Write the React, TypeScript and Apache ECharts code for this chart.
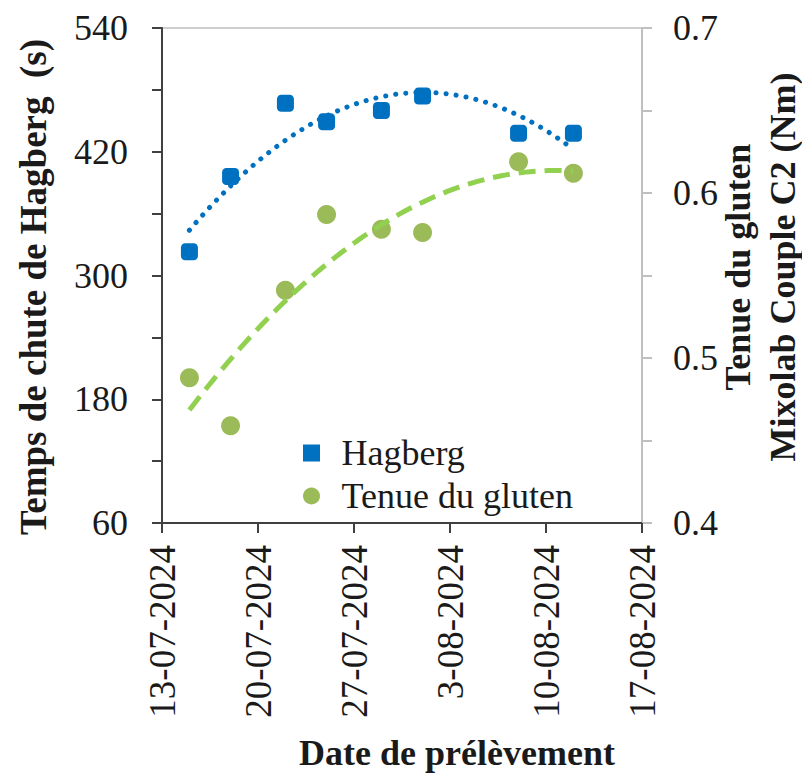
import React, { useEffect, useRef } from "react";
import * as echarts from "echarts";

// ---- data ----
const axisStartDate = "2024-07-13";
const axisEndDate = "2024-08-17";
const sampleDates = [
  "2024-07-15",
  "2024-07-18",
  "2024-07-22",
  "2024-07-25",
  "2024-07-29",
  "2024-08-01",
  "2024-08-08",
  "2024-08-12",
];
const hagbergValues = [323, 396, 467, 449, 460, 474, 438, 438];
const glutenValues = [0.488, 0.459, 0.541, 0.587, 0.578, 0.576, 0.619, 0.612];
const leftTickLabels = [60, 180, 300, 420, 540];
const rightTickLabels = [0.4, 0.5, 0.6, 0.7];

const seriesNames = ["Hagberg", "Tenue du gluten"];
const titleLeft = "Temps de chute de Hagberg  (s)";
const titleRight1 = "Tenue du gluten";
const titleRight2 = "Mixolab Couple C2 (Nm)";
const titleBottom = "Date de prélèvement";

// ---- helpers ----
const DAY = 86400000;
const toUTC = (s: string) => {
  const [y, m, d] = s.split("-").map(Number);
  return Date.UTC(y, m - 1, d);
};
const t0 = toUTC(axisStartDate);
const dayOf = (s: string) => Math.round((toUTC(s) - t0) / DAY);
const xMax = dayOf(axisEndDate);
const xs = sampleDates.map(dayOf);

const fmtDate = (v: number) => {
  const d = new Date(t0 + v * DAY);
  const mm = String(d.getUTCMonth() + 1).padStart(2, "0");
  return `${d.getUTCDate()}-${mm}-${d.getUTCFullYear()}`;
};

// least-squares quadratic (Excel polynomial trendline, order 2)
function quadFit(x: number[], y: number[]) {
  let s0 = 0, s1 = 0, s2 = 0, s3 = 0, s4 = 0, t0_ = 0, t1 = 0, t2 = 0;
  for (let i = 0; i < x.length; i++) {
    const a = x[i];
    s0 += 1; s1 += a; s2 += a * a; s3 += a * a * a; s4 += a * a * a * a;
    t0_ += y[i]; t1 += a * y[i]; t2 += a * a * y[i];
  }
  const M = [
    [s0, s1, s2, t0_],
    [s1, s2, s3, t1],
    [s2, s3, s4, t2],
  ];
  for (let c = 0; c < 3; c++) {
    for (let r = c + 1; r < 3; r++) {
      const f = M[r][c] / M[c][c];
      for (let k = c; k < 4; k++) M[r][k] -= f * M[c][k];
    }
  }
  const coef = [0, 0, 0];
  for (let r = 2; r >= 0; r--) {
    let s = M[r][3];
    for (let k = r + 1; k < 3; k++) s -= M[r][k] * coef[k];
    coef[r] = s / M[r][r];
  }
  return (v: number) => coef[0] + coef[1] * v + coef[2] * v * v;
}

function trend(x: number[], y: number[]) {
  const f = quadFit(x, y);
  const a = Math.min(...x);
  const b = Math.max(...x);
  const out: number[][] = [];
  const n = 80;
  for (let i = 0; i <= n; i++) {
    const v = a + ((b - a) * i) / n;
    out.push([v, f(v)]);
  }
  return out;
}

const FONT = "'Liberation Serif', 'Times New Roman', serif";
const BLUE = "#0070C0";
const GREEN = "#9BBB59";
const GREEN_TREND = "#92D050";
const TEXT = "#1a1a1a";

export default function App() {
  const ref = useRef<HTMLDivElement>(null);
  useEffect(() => {
    if (!ref.current) return;
    const chart = echarts.init(ref.current, undefined, { renderer: "svg" });
    const hPts = xs.map((x, i) => [x, hagbergValues[i]]);
    const gPts = xs.map((x, i) => [x, glutenValues[i]]);
    chart.setOption({
      animation: false,
      backgroundColor: "#ffffff",
      grid: {
        left: 162,
        right: 160,
        top: 28,
        bottom: 252,
        show: true,
        borderColor: "#bfbfbf",
        borderWidth: 1.5,
        backgroundColor: "transparent",
      },
      legend: {
        data: [
          { name: seriesNames[0], icon: "path://M0,0L10,0L10,10L0,10Z" },
          { name: seriesNames[1], icon: "circle" },
        ],
        orient: "vertical",
        left: 298,
        top: 430,
        itemWidth: 50,
        itemHeight: 17,
        itemGap: 7,
        symbolKeepAspect: true,
        itemStyle: { opacity: 1 },
        textStyle: { fontFamily: FONT, fontSize: 36, color: TEXT },
      },
      xAxis: {
        type: "value",
        min: 0,
        max: xMax,
        interval: 7,
        splitLine: { show: false },
        axisLine: { lineStyle: { color: "#404040", width: 2 } },
        axisTick: { show: true, length: 10, lineStyle: { color: "#404040", width: 2 } },
        axisLabel: {
          rotate: 90,
          margin: 22,
          fontFamily: FONT,
          fontSize: 37,
          color: TEXT,
          formatter: (v: number) => fmtDate(v),
        },
      },
      yAxis: [
        {
          type: "value",
          min: 60,
          max: 540,
          interval: 60,
          position: "left",
          splitLine: { show: false },
          axisLine: { show: true, lineStyle: { color: "#404040", width: 2 } },
          axisTick: { show: true, length: 10, lineStyle: { color: "#404040", width: 2 } },
          axisLabel: {
            margin: 34,
            fontFamily: FONT,
            fontSize: 36,
            color: TEXT,
            formatter: (v: number) =>
              leftTickLabels.includes(Math.round(v)) ? String(Math.round(v)) : "",
          },
        },
        {
          type: "value",
          min: 0.4,
          max: 0.7,
          interval: 0.05,
          position: "right",
          splitLine: { show: false },
          axisLine: { show: true, lineStyle: { color: "#bfbfbf", width: 2 } },
          axisTick: { show: true, length: 10, lineStyle: { color: "#bfbfbf", width: 2 } },
          axisLabel: {
            margin: 31,
            fontFamily: FONT,
            fontSize: 36,
            color: TEXT,
            formatter: (v: number) => {
              const r = Math.round(v * 100) / 100;
              return rightTickLabels.some((t) => Math.abs(t - r) < 1e-6) ? r.toFixed(1) : "";
            },
          },
        },
      ],
      series: [
        {
          name: seriesNames[0],
          type: "scatter",
          yAxisIndex: 0,
          symbol: "roundRect",
          symbolSize: 17,
          itemStyle: { color: BLUE, opacity: 1 },
          data: hPts,
          z: 2,
        },
        {
          name: seriesNames[1],
          type: "scatter",
          yAxisIndex: 1,
          symbol: "circle",
          symbolSize: 19,
          itemStyle: { color: GREEN, opacity: 1 },
          data: gPts,
          z: 2,
        },
        {
          name: "trend-h",
          type: "line",
          yAxisIndex: 0,
          showSymbol: false,
          symbol: "none",
          data: trend(xs, hagbergValues),
          lineStyle: { color: BLUE, width: 5, type: [0.1, 10], cap: "round" },
          z: 3,
          silent: true,
        },
        {
          name: "trend-g",
          type: "line",
          yAxisIndex: 1,
          showSymbol: false,
          symbol: "none",
          data: trend(xs, glutenValues),
          lineStyle: { color: GREEN_TREND, width: 5, type: [17, 9], cap: "butt" },
          z: 3,
          silent: true,
        },
      ],
      graphic: [
        {
          type: "text",
          x: 33,
          y: 287,
          rotation: Math.PI / 2,
          style: {
            text: titleLeft,
            fontFamily: FONT,
            fontSize: 37,
            fontWeight: "bold",
            fill: TEXT,
            align: "center",
            verticalAlign: "middle",
          },
        },
        {
          type: "text",
          x: 738,
          y: 267,
          rotation: Math.PI / 2,
          style: {
            text: titleRight1,
            fontFamily: FONT,
            fontSize: 36,
            fontWeight: "bold",
            fill: TEXT,
            align: "center",
            verticalAlign: "middle",
          },
        },
        {
          type: "text",
          x: 783,
          y: 267,
          rotation: Math.PI / 2,
          style: {
            text: titleRight2,
            fontFamily: FONT,
            fontSize: 36,
            fontWeight: "bold",
            fill: TEXT,
            align: "center",
            verticalAlign: "middle",
          },
        },
        {
          type: "text",
          x: 457,
          y: 753,
          style: {
            text: titleBottom,
            fontFamily: FONT,
            fontSize: 36,
            fontWeight: "bold",
            fill: TEXT,
            align: "center",
            verticalAlign: "middle",
          },
        },
      ],
    });
    return () => chart.dispose();
  }, []);
  return (
    <div
      ref={ref}
      style={{ position: "fixed", left: 0, top: 0, width: 802, height: 775, background: "#fff" }}
    />
  );
}
